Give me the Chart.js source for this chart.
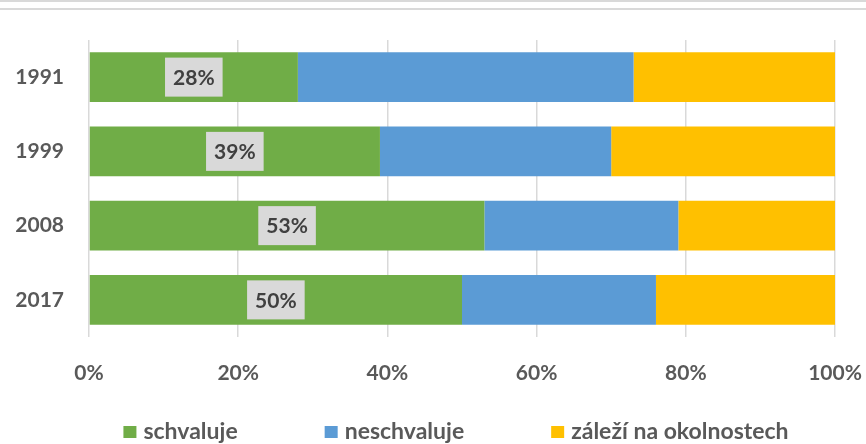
<!DOCTYPE html>
<html>
<head>
<meta charset="utf-8">
<script src="https://cdn.jsdelivr.net/npm/chart.js@4"></script>
<style>
html, body { margin: 0; padding: 0; background: #fff; }
#wrap { width: 866px; height: 444px; position: relative; }
</style>
</head>
<body>
<div id="wrap"><canvas id="myChart"></canvas></div>
<script>
// data (percent of answers)
var years = ['1991', '1999', '2008', '2017'];
var schvaluje = [28, 39, 53, 50];
var neschvaluje = [45, 31, 26, 26];
var zalezi = [27, 30, 21, 24];
var seriesNames = ['schvaluje', 'neschvaluje', 'záleží na okolnostech'];
var xTicks = ['0%', '20%', '40%', '60%', '80%', '100%'];

var colour = ['#70ad47', '#5b9bd5', '#ffc000'];
var fontName = 'Lato, "Open Sans", sans-serif';

// two thin grey lines at the very top (window frame in the original)
var frameLines = {
    id: 'frameLines',
    beforeDraw: function(chart) {
        var ctx = chart.ctx;
        ctx.save();
        ctx.fillStyle = '#d9d9d9';
        ctx.fillRect(0, 0, chart.width, 2);
        ctx.fillRect(0, 8, chart.width, 2);
        ctx.restore();
    }
};

// grey boxed labels in the first (green) segment
var boxLabels = {
    id: 'boxLabels',
    afterDatasetsDraw: function(chart) {
        var ctx = chart.ctx;
        var meta = chart.getDatasetMeta(0);
        ctx.save();
        ctx.font = 'bold 21px ' + fontName;
        ctx.textAlign = 'center';
        ctx.textBaseline = 'middle';
        meta.data.forEach(function(bar, i) {
            var txt = chart.data.datasets[0].data[i] + '%';
            var cx = (bar.x + bar.base) / 2;
            var cy = bar.y;
            var w = ctx.measureText(txt).width + 16;
            var h = 39;
            ctx.fillStyle = '#d9d9d9';
            ctx.fillRect(cx - w / 2, cy - h / 2, w, h);
            ctx.fillStyle = '#404040';
            ctx.fillText(txt, cx, cy + 1);
        });
        ctx.restore();
    }
};

// legend with wide gaps, drawn by hand
var wideLegend = {
    id: 'wideLegend',
    afterDraw: function(chart) {
        var ctx = chart.ctx;
        var gap = 87, box = 13, textGap = 7, y = 432;
        ctx.save();
        ctx.font = 'bold 23px ' + fontName;
        ctx.textBaseline = 'middle';
        var widths = chart.data.datasets.map(function(ds) {
            return box + textGap + ctx.measureText(ds.label).width;
        });
        var total = widths.reduce(function(a, b) { return a + b; }, 0) + gap * (widths.length - 1);
        var x = 456 - total / 2;
        chart.data.datasets.forEach(function(ds, i) {
            ctx.fillStyle = ds.backgroundColor;
            ctx.fillRect(x, y - 6, box, 12);
            ctx.fillStyle = '#595959';
            ctx.fillText(ds.label, x + box + textGap, y);
            x += widths[i] + gap;
        });
        ctx.restore();
    }
};

var context = document.getElementById('myChart').getContext('2d');

var myChart = new Chart(context, {
    type: 'bar',
    data: {
        labels: years,
        datasets: [
            { label: seriesNames[0], data: schvaluje, backgroundColor: colour[0] },
            { label: seriesNames[1], data: neschvaluje, backgroundColor: colour[1] },
            { label: seriesNames[2], data: zalezi, backgroundColor: colour[2] }
        ]
    },
    options: {
        indexAxis: 'y',
        responsive: true,
        maintainAspectRatio: false,
        animation: false,
        categoryPercentage: 1,
        barPercentage: 0.67,
        layout: { padding: { top: 40, right: 31, bottom: 47, left: 0 } },
        plugins: {
            legend: { display: false },
            tooltip: { enabled: false }
        },
        scales: {
            x: {
                stacked: true,
                min: 0,
                max: 100,
                ticks: {
                    stepSize: 20,
                    padding: 24,
                    color: '#595959',
                    font: { family: fontName, size: 21, weight: 'bold' },
                    callback: function(v, i) { return xTicks[i]; }
                },
                grid: { color: '#d9d9d9', lineWidth: 1.5, drawTicks: false },
                border: { display: false },
                afterFit: function(s) {
                    s.height = 60;
                    s.paddingLeft = 0;
                    s.paddingRight = 0;
                }
            },
            y: {
                stacked: true,
                ticks: {
                    padding: 25,
                    color: '#595959',
                    font: { family: fontName, size: 21, weight: 'bold' }
                },
                grid: { display: false, drawTicks: false },
                border: { display: false },
                afterFit: function(s) { s.width = 89; }
            }
        }
    },
    plugins: [frameLines, boxLabels, wideLegend]
});
</script>
</body>
</html>
